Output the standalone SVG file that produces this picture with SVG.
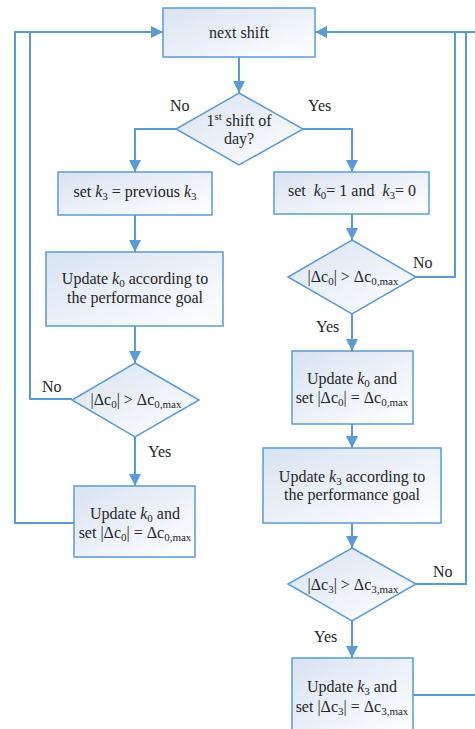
<svg xmlns="http://www.w3.org/2000/svg" width="475" height="729" viewBox="0 0 475 729" font-family="Liberation Serif, Times New Roman, serif">
<style>
.n{fill:url(#g);stroke:#5b9bd5;stroke-width:1.5}
.c{fill:none;stroke:#5b9bd5;stroke-width:2}
text{font-family:'Liberation Serif','Times New Roman',serif;font-size:16px;fill:#262626}
.m{text-anchor:middle}
.i{font-style:italic}
.s{font-size:11px}
</style>
<defs>
<linearGradient id="g" x1="0" y1="0" x2="1" y2="1">
<stop offset="0" stop-color="#d8e3f2"/>
<stop offset="1" stop-color="#ffffff"/>
</linearGradient>
<marker id="a" viewBox="0 0 12 12" refX="12" refY="6" markerWidth="12" markerHeight="12" markerUnits="userSpaceOnUse" orient="auto">
<path d="M0,0 L12,6 L0,12 Z" fill="#5b9bd5"/>
</marker>
</defs>

<g id="connectors">
<path class="c" d="M239,57 V93" marker-end="url(#a)"/>
<path class="c" d="M176,129 H135 V172" marker-end="url(#a)"/>
<path class="c" d="M303,129 H352 V172" marker-end="url(#a)"/>
<path class="c" d="M135,215 V252" marker-end="url(#a)"/>
<path class="c" d="M135,326 V363" marker-end="url(#a)"/>
<path class="c" d="M72,399 H30 V32 H163" marker-end="url(#a)"/>
<path class="c" d="M74,523 H15 V32 H30"/>
<path class="c" d="M135,437 V486" marker-end="url(#a)"/>
<path class="c" d="M352,214 V240" marker-end="url(#a)"/>
<path class="c" d="M416,277 H455 V32"/>
<path class="c" d="M352,314 V351" marker-end="url(#a)"/>
<path class="c" d="M352,424 V448" marker-end="url(#a)"/>
<path class="c" d="M352,523 V548" marker-end="url(#a)"/>
<path class="c" d="M416,584 H466 V32"/>
<path class="c" d="M475,32 H315" marker-end="url(#a)"/>
<path class="c" d="M352,621 V658" marker-end="url(#a)"/>
<path class="c" d="M413,695 H475"/>
<text x="170" y="111">No</text>
<text x="308" y="111">Yes</text>
<text x="413" y="268">No</text>
<text x="316" y="332">Yes</text>
<text x="42" y="392">No</text>
<text x="148" y="457">Yes</text>
<text x="433" y="577">No</text>
<text x="314" y="642">Yes</text>
</g>

<g id="next-shift">
<rect class="n" x="163" y="8" width="152" height="49"/>
<text class="m" x="239" y="38">next shift</text>
</g>

<g id="first-shift">
<path class="n" d="M239,93 L303,129 L239,165 L176,129 Z"/>
<text class="m" x="239" y="126">1<tspan class="s" dy="-6">st</tspan><tspan dy="6"> shift of</tspan></text>
<text class="m" x="239" y="144">day?</text>
</g>

<g id="set-k3-previous">
<rect class="n" x="58" y="172" width="154" height="43"/>
<text class="m" x="135" y="197">set <tspan class="i">k</tspan><tspan class="s" dy="3">3</tspan><tspan dy="-3"> = previous </tspan><tspan class="i">k</tspan><tspan class="s" dy="3">3</tspan></text>
</g>

<g id="update-k0-goal">
<rect class="n" x="46" y="252" width="177" height="74"/>
<text class="m" x="135" y="284">Update <tspan class="i">k</tspan><tspan class="s" dy="3">0</tspan><tspan dy="-3"> according to</tspan></text>
<text class="m" x="135" y="303">the performance goal</text>
</g>

<g id="check-c0-left">
<path class="n" d="M135,363 L199,400 L135,437 L72,400 Z"/>
<text class="m" x="136" y="405">|Δc<tspan class="s" dy="3">0</tspan><tspan dy="-3">| &gt; Δc</tspan><tspan class="s" dy="3">0,max</tspan></text>
</g>

<g id="limit-c0-left">
<rect class="n" x="74" y="486" width="121" height="71"/>
<text class="m" x="135" y="519">Update <tspan class="i">k</tspan><tspan class="s" dy="3">0</tspan><tspan dy="-3"> and</tspan></text>
<text class="m" x="135" y="538">set |Δc<tspan class="s" dy="3">0</tspan><tspan dy="-3">| = Δc</tspan><tspan class="s" dy="3">0,max</tspan></text>
</g>

<g id="set-k0-k3">
<rect class="n" x="274" y="172" width="155" height="42"/>
<text class="m" x="352" y="196" xml:space="preserve">set  <tspan class="i">k</tspan><tspan class="s" dy="3">0</tspan><tspan dy="-3">= 1 and  </tspan><tspan class="i">k</tspan><tspan class="s" dy="3">3</tspan><tspan dy="-3">= 0</tspan></text>
</g>

<g id="check-c0-right">
<path class="n" d="M352,240 L416,277 L352,314 L288,277 Z"/>
<text class="m" x="353" y="282">|Δc<tspan class="s" dy="3">0</tspan><tspan dy="-3">| &gt; Δc</tspan><tspan class="s" dy="3">0,max</tspan></text>
</g>

<g id="limit-c0-right">
<rect class="n" x="292" y="351" width="121" height="73"/>
<text class="m" x="352" y="384">Update <tspan class="i">k</tspan><tspan class="s" dy="3">0</tspan><tspan dy="-3"> and</tspan></text>
<text class="m" x="352" y="403">set |Δc<tspan class="s" dy="3">0</tspan><tspan dy="-3">| = Δc</tspan><tspan class="s" dy="3">0,max</tspan></text>
</g>

<g id="update-k3-goal">
<rect class="n" x="263" y="448" width="178" height="75"/>
<text class="m" x="352" y="482">Update <tspan class="i">k</tspan><tspan class="s" dy="3">3</tspan><tspan dy="-3"> according to</tspan></text>
<text class="m" x="352" y="500">the performance goal</text>
</g>

<g id="check-c3">
<path class="n" d="M352,548 L416,584 L352,621 L288,584 Z"/>
<text class="m" x="353" y="590">|Δc<tspan class="s" dy="3">3</tspan><tspan dy="-3">| &gt; Δc</tspan><tspan class="s" dy="3">3,max</tspan></text>
</g>

<g id="limit-c3">
<rect class="n" x="292" y="658" width="121" height="80"/>
<text class="m" x="352" y="692">Update <tspan class="i">k</tspan><tspan class="s" dy="3">3</tspan><tspan dy="-3"> and</tspan></text>
<text class="m" x="352" y="712">set |Δc<tspan class="s" dy="3">3</tspan><tspan dy="-3">| = Δc</tspan><tspan class="s" dy="3">3,max</tspan></text>
</g>
</svg>
